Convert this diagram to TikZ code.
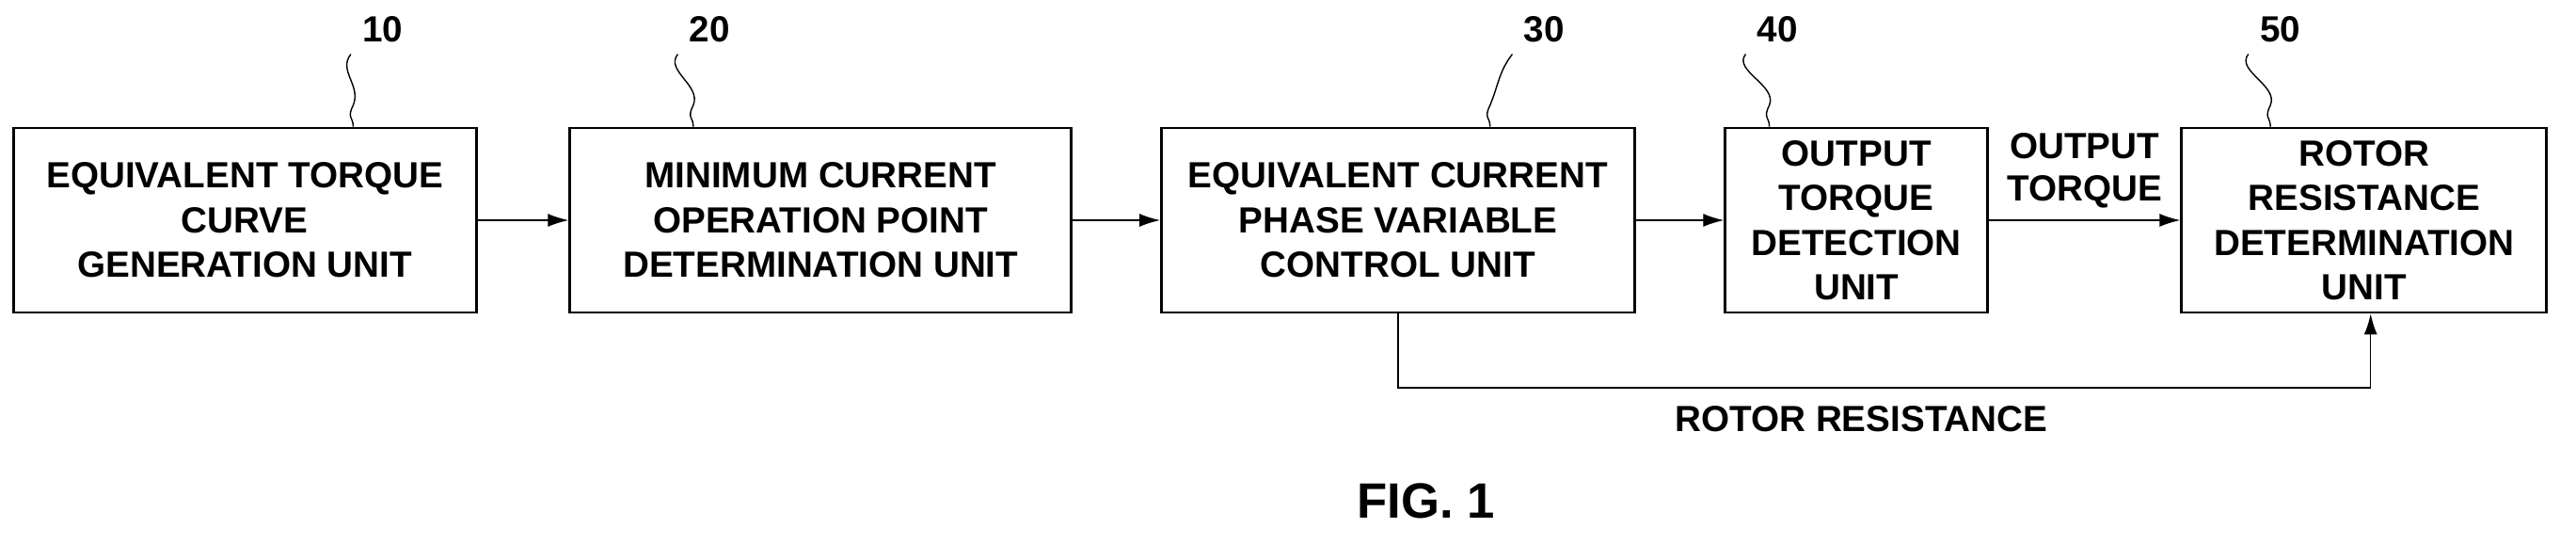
\documentclass[tikz,border=0pt]{standalone}
\usepackage{fontspec}
\setmainfont{Liberation Sans}
\usetikzlibrary{arrows.meta, positioning}

\begin{document}
\begin{tikzpicture}[
    x=0.1746mm, y=-0.1746mm,
    % --- block styles ---
    unit/.style={
        rectangle,
        draw=black,
        thick,
        minimum height=19.6mm,
        align=center,
        font=\bfseries\fontsize{11}{13.5}\selectfont
    },
    refNum/.style={font=\bfseries\fontsize{11}{13}\selectfont},
    leader/.style={thin},
    arrow/.style={-{Latex[length=2.2mm,width=1.4mm]}, thin},
    sigLabel/.style={font=\bfseries\fontsize{11}{13}\selectfont, align=center}
]
    \useasboundingbox (0,0) rectangle (1568,331);

    % --- Blocks ---
    \node (etcg) [unit, minimum width=49.2mm] at (149,134)
        {EQUIVALENT TORQUE\\CURVE\\GENERATION UNIT};
    \node (mcop) [unit, minimum width=53.3mm] at (499.5,134)
        {MINIMUM CURRENT\\OPERATION POINT\\DETERMINATION UNIT};
    \node (ecpv) [unit, minimum width=50.3mm] at (851,134)
        {EQUIVALENT CURRENT\\PHASE VARIABLE\\CONTROL UNIT};
    \node (otd) [unit, minimum width=27.9mm] at (1130,134)
        {OUTPUT\\TORQUE\\DETECTION\\UNIT};
    \node (rrd) [unit, minimum width=38.8mm] at (1439,134)
        {ROTOR\\RESISTANCE\\DETERMINATION\\UNIT};

    % --- Reference numbers ---
    \node (n10) [refNum] at (233,18) {10};
    \node (n20) [refNum] at (432,18) {20};
    \node (n30) [refNum] at (940,18) {30};
    \node (n40) [refNum] at (1082,18) {40};
    \node (n50) [refNum] at (1388,18) {50};
    \foreach \n/\u/\x in {n10/etcg/215, n20/mcop/422, n30/ecpv/907, n40/otd/1077, n50/rrd/1382}
        \draw [leader] (\n.south west) .. controls +(-8,10) and +(5,-12) .. (\x,64)
            .. controls +(-4,8) and +(0,-6) .. (\u.north -| \x,0);

    % --- Signal flow ---
    \draw [arrow] (etcg) -- (mcop);
    \draw [arrow] (mcop) -- (ecpv);
    \draw [arrow] (ecpv) -- (otd);
    \draw [arrow] (otd) -- node (outTq) [sigLabel, above] {OUTPUT\\TORQUE} (rrd);

    % --- Feedback ---
    \coordinate (fbL) at (851,236);
    \coordinate (fbR) at (1443,236);
    \draw [arrow] (ecpv.south) -- (fbL) -- (fbR) -- (rrd.south -| fbR);
    \node (rotRes) [sigLabel] at (1133,255) {ROTOR RESISTANCE};

    % --- Caption ---
    \node (fig) [font=\bfseries\fontsize{15}{18}\selectfont] at (868,305) {FIG. 1};
\end{tikzpicture}
\end{document}
